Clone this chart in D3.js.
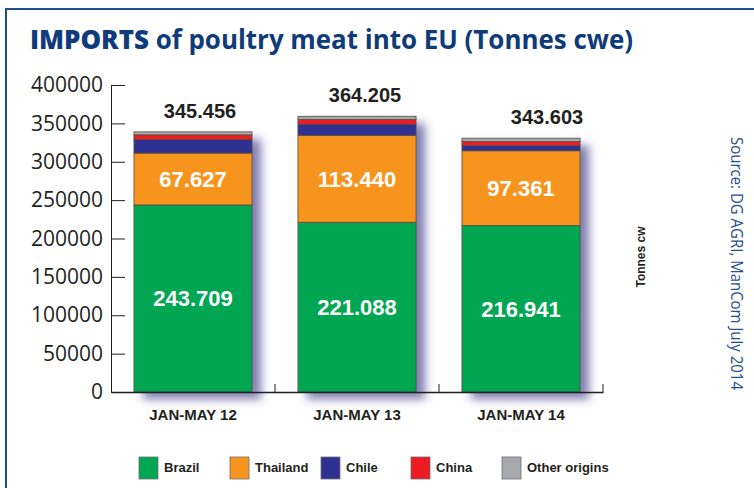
<!DOCTYPE html>
<html>
<head>
<meta charset="utf-8">
<script src="https://cdn.jsdelivr.net/npm/d3@7"></script>
<style>
  body { margin: 0; background: #fff; }
  svg { display: block; }
</style>
</head>
<body>
<script>
// data
var periods = ["JAN-MAY 12", "JAN-MAY 13", "JAN-MAY 14"];
var origins = ["Brazil", "Thailand", "Chile", "China", "Other origins"];
var brazil   = [243709, 221088, 216941];
var thailand = [67627, 113440, 97361];
var chile    = [17700, 14300, 6800];
var china    = [6000, 6100, 5200];
var other    = [3900, 4300, 4400];
var totals   = ["345.456", "364.205", "343.603"];
var yTicks   = [0, 50000, 100000, 150000, 200000, 250000, 300000, 350000, 400000];

var colors = ["#00a651", "#f7941d", "#2e3192", "#ed1c24", "#a7a9ac"];
var series = [brazil, thailand, chile, china, other];

// layout
var W = 754, H = 488;
var x0 = 111, x1 = 603, yTop = 85, yBase = 392;
var totalShift = [7, 8, 26];

var svg = d3.select("body").append("svg")
    .attr("width", W)
    .attr("height", H);

// drop shadow
var defs = svg.append("defs");
var f = defs.append("filter").attr("id", "shadow")
    .attr("x", "-20%").attr("y", "-20%").attr("width", "150%").attr("height", "150%");
f.append("feGaussianBlur").attr("in", "SourceAlpha").attr("stdDeviation", 5);
f.append("feOffset").attr("dx", 9).attr("dy", 7).attr("result", "blur");
f.append("feFlood").attr("flood-color", "#4b4890").attr("flood-opacity", 0.7);
f.append("feComposite").attr("in2", "blur").attr("operator", "in");

// frame
svg.append("rect")
    .attr("x", 6).attr("y", 9)
    .attr("width", W + 20).attr("height", H + 20)
    .attr("fill", "none")
    .attr("stroke", "#1d4f91")
    .attr("stroke-width", 2);

// title
svg.append("text")
    .attr("x", 30).attr("y", 49)
    .attr("font-family", "Open Sans")
    .attr("font-size", 26)
    .attr("fill", "#0f3b7a")
    .attr("textLength", 603)
    .attr("lengthAdjust", "spacingAndGlyphs")
    .call(function(t) {
      t.append("tspan").attr("font-weight", 800).text("IMPORTS");
      t.append("tspan").attr("font-weight", 700).text(" of poultry meat into EU (Tonnes cwe)");
    });

// scales
var x = d3.scaleBand().domain(periods).range([x0, x1])
    .paddingInner(0.28).paddingOuter(0.14);
var y = d3.scaleLinear().domain([0, 400000]).range([yBase, yTop]);

// stacked data
var table = periods.map(function(p, i) {
  var row = { period: p };
  origins.forEach(function(o, k) { row[o] = series[k][i]; });
  return row;
});
var stacked = d3.stack().keys(origins)(table);

// shadows behind the bars
svg.append("g").selectAll("rect")
    .data(table)
    .enter().append("rect")
    .attr("x", function(d) { return x(d.period); })
    .attr("y", function(d) { return y(d3.sum(origins, function(o) { return d[o]; })); })
    .attr("width", x.bandwidth())
    .attr("height", function(d) { return yBase - y(d3.sum(origins, function(o) { return d[o]; })); })
    .attr("fill", "#000")
    .attr("filter", "url(#shadow)");

// bars
svg.append("g").selectAll("g")
    .data(stacked)
    .enter().append("g")
    .attr("fill", function(d, i) { return colors[i]; })
  .selectAll("rect")
    .data(function(d) { return d; })
    .enter().append("rect")
    .attr("x", function(d) { return x(d.data.period); })
    .attr("y", function(d) { return y(d[1]); })
    .attr("width", x.bandwidth())
    .attr("height", function(d) { return y(d[0]) - y(d[1]); })
    .attr("stroke", "#5c4a3c")
    .attr("stroke-width", 0.8);

// y axis, ticks pointing inward
var yAxis = svg.append("g")
    .attr("transform", "translate(" + x0 + ",0)")
    .call(d3.axisLeft(y).tickValues(yTicks).tickSize(-14).tickSizeOuter(0).tickPadding(8)
      .tickFormat(d3.format("d")));
yAxis.select(".domain").attr("stroke", "#231f20");
yAxis.selectAll(".tick line").attr("stroke", "#231f20");
yAxis.selectAll("text")
    .attr("font-family", "Open Sans")
    .attr("font-size", 21)
    .attr("fill", "#231f20");

// x axis
var xAxis = svg.append("g")
    .attr("transform", "translate(0," + yBase + ")")
    .call(d3.axisBottom(x).tickSize(0).tickSizeOuter(0).tickPadding(17));
xAxis.select(".domain").attr("stroke", "#231f20").attr("stroke-width", 1.5);
xAxis.selectAll("text")
    .attr("font-family", "Liberation Sans, Arial")
    .attr("font-weight", "bold")
    .attr("font-size", 15)
    .attr("fill", "#231f20");

// small ticks at category boundaries
svg.append("g").selectAll("line")
    .data(periods)
    .enter().append("line")
    .attr("x1", function(d) { return x(d) + x.step() * 0.86; })
    .attr("x2", function(d) { return x(d) + x.step() * 0.86; })
    .attr("y1", yBase).attr("y2", yBase - 8)
    .attr("stroke", "#231f20");

// segment labels (Brazil, Thailand)
[0, 1].forEach(function(k) {
  svg.append("g").selectAll("text")
      .data(stacked[k])
      .enter().append("text")
      .attr("x", function(d) { return x(d.data.period) + x.bandwidth() / 2; })
      .attr("y", function(d) { return (y(d[0]) + y(d[1])) / 2 + 8; })
      .attr("text-anchor", "middle")
      .attr("font-family", "Liberation Sans, Arial")
      .attr("font-weight", "bold")
      .attr("font-size", 22)
      .attr("fill", "#fff")
      .text(function(d) { return d3.format(",")(d[1] - d[0]).replace(",", "."); });
});

// totals above the bars
svg.append("g").selectAll("text")
    .data(stacked[4])
    .enter().append("text")
    .attr("x", function(d, i) { return x(d.data.period) + x.bandwidth() / 2 + totalShift[i]; })
    .attr("y", function(d) { return y(d[1]) - 14; })
    .attr("text-anchor", "middle")
    .attr("font-family", "Liberation Sans, Arial")
    .attr("font-weight", "bold")
    .attr("font-size", 20)
    .attr("fill", "#231f20")
    .text(function(d, i) { return totals[i]; });

// unit label
svg.append("text")
    .attr("transform", "translate(645,257) rotate(-90)")
    .attr("text-anchor", "middle")
    .attr("font-family", "Liberation Sans, Arial")
    .attr("font-weight", "bold")
    .attr("font-size", 12)
    .attr("fill", "#231f20")
    .text("Tonnes cw");

// source
svg.append("text")
    .attr("transform", "translate(731,137) rotate(90)")
    .attr("font-family", "Open Sans")
    .attr("font-size", 17)
    .attr("fill", "#1d4f91")
    .attr("textLength", 253)
    .attr("lengthAdjust", "spacingAndGlyphs")
    .text("Source: DG AGRI, ManCom July 2014");

// legend
var legendX = [139, 230, 321, 411, 502];
var legend = svg.append("g").selectAll("g")
    .data(origins)
    .enter().append("g")
    .attr("transform", function(d, i) { return "translate(" + legendX[i] + ",457)"; });
legend.append("rect")
    .attr("width", 19).attr("height", 22)
    .attr("fill", function(d, i) { return colors[i]; })
    .attr("stroke", "#6d6e71")
    .attr("stroke-width", 0.8);
legend.append("text")
    .attr("x", 25).attr("y", 15)
    .attr("font-family", "Liberation Sans, Arial")
    .attr("font-weight", "bold")
    .attr("font-size", 13)
    .attr("fill", "#231f20")
    .text(function(d) { return d; });
</script>
</body>
</html>
